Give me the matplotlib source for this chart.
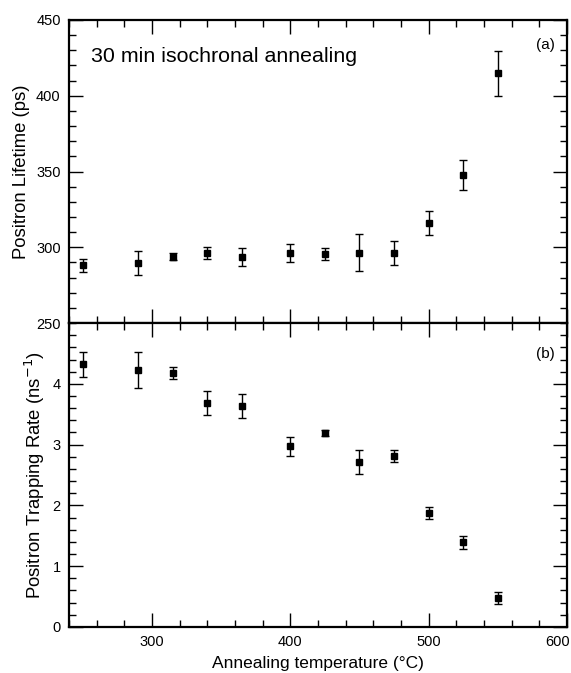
import matplotlib.pyplot as plt
from matplotlib.ticker import MultipleLocator

plt.rcParams['font.family'] = ['Liberation Sans', 'DejaVu Sans']

temp = [250, 290, 315, 340, 365, 400, 425, 450, 475, 500, 525, 550]
lifetime = [288.2, 289.6, 293.8, 296.2, 293.5, 296.2, 295.5, 296.5, 296.2, 315.8, 347.6, 414.8]
lifetime_err = [4.2, 8.1, 2.2, 4.2, 6.0, 6.0, 4.0, 12.0, 8.2, 8.0, 10.0, 15.0]
rate = [4.32, 4.23, 4.18, 3.68, 3.64, 2.97, 3.19, 2.71, 2.81, 1.88, 1.39, 0.48]
rate_err = [0.2, 0.3, 0.1, 0.2, 0.2, 0.15, 0.045, 0.2, 0.1, 0.1, 0.1, 0.1]
xticks = [300, 400, 500, 600]
PAD = 6

fig = plt.figure(figsize=(5.71, 6.73), dpi=100)
ax1 = fig.add_axes([0.1208, 0.520, 0.872, 0.4503])
ax2 = fig.add_axes([0.1208, 0.0684, 0.872, 0.4516])

for ax in (ax1, ax2):
    ax.set_xlim(240, 600)
    ax.set_xticks(xticks)
    ax.xaxis.set_minor_locator(MultipleLocator(20))
    ax.tick_params(which='both', direction='in', top=True, right=True, labelsize=10.5, pad=PAD)
    ax.tick_params(which='major', length=10, width=1)
    ax.tick_params(which='minor', length=5, width=1)
    for s in ax.spines.values():
        s.set_linewidth(1.6)

ax1.errorbar(temp, lifetime, yerr=lifetime_err, fmt='s', color='black', ms=4,
             capsize=3, elinewidth=1, capthick=1)
ax1.set_ylim(250, 450)
ax1.yaxis.set_major_locator(MultipleLocator(50))
ax1.yaxis.set_minor_locator(MultipleLocator(10))
ax1.tick_params(labelbottom=False)
ax1.set_ylabel('Positron Lifetime (ps)', fontsize=13.3)
ax1.text(0.045, 0.86, '30 min isochronal annealing', transform=ax1.transAxes, fontsize=15.4)
ax1.text(0.975, 0.905, '(a)', transform=ax1.transAxes, fontsize=11, ha='right')

ax2.errorbar(temp, rate, yerr=rate_err, fmt='s', color='black', ms=4,
             capsize=3, elinewidth=1, capthick=1)
ax2.set_ylim(0, 5)
ax2.set_yticks([0, 1, 2, 3, 4])
ax2.yaxis.set_minor_locator(MultipleLocator(0.2))
# last label drawn by hand so it stays inside the figure edge
ax2.set_xticklabels([str(t) for t in xticks[:-1]] + [''])
ax2.annotate(str(xticks[-1]), xy=(xticks[-1], 0), xycoords=('data', 'axes fraction'),
             xytext=(2, -PAD), textcoords='offset points', fontsize=10.5, ha='right', va='top')
ax2.set_ylabel('Positron Trapping Rate (ns$^{-1}$)', fontsize=13.3)
ax2.set_xlabel('Annealing temperature (\u00b0C)', fontsize=12.5, labelpad=5)
ax2.text(0.975, 0.885, '(b)', transform=ax2.transAxes, fontsize=11, ha='right')

plt.savefig('out.png', dpi=100)
plt.close()
